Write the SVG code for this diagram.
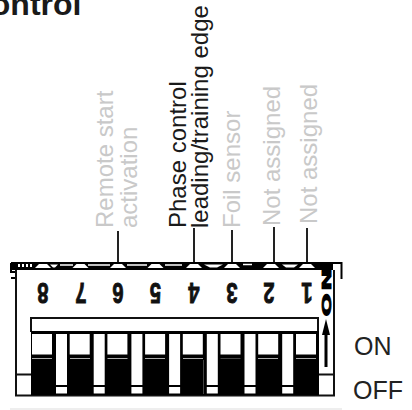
<svg xmlns="http://www.w3.org/2000/svg" width="412" height="410" viewBox="0 0 412 410">
<style>
text{font-family:"Liberation Sans",Arial,sans-serif}
.l{font-size:24px}
.g{fill:#c9c9c9}
.k{fill:#1a1a1a}
.d{font-size:29.500px;font-weight:bold;fill:#111;stroke:#111;stroke-width:1;text-anchor:middle}
.c{stroke:#222;stroke-width:2;fill:none}
.w{fill:#fff}
.t{stroke:#fff;stroke-width:1.5;fill:none}
.m{stroke:#aaa;stroke-width:1;fill:none}
.n{stroke:#444;stroke-width:1;fill:none}
</style>
<defs>
<polygon id="tz" class="w" points="-4,264 4,264 8,268 -8,268"/>
<g id="slot"><rect class="w" x="0" y="334" width="20" height="20.5"/></g>
<g id="col"><rect class="w" x="0" y="334" width="11" height="51"/><rect class="w" x="0" y="387" width="11" height="6.5"/></g>
</defs>
<rect width="412" height="410" fill="#fff"/>
<text x="-27" y="15" font-size="32" font-weight="bold" class="k">control</text>
<g id="labels">
<text class="l g" transform="translate(113 228) rotate(-90)">Remote start</text>
<text class="l g" transform="translate(137 228) rotate(-90)">activation</text>
<text class="l k" transform="translate(186 228) rotate(-90)">Phase control</text>
<text class="l k" transform="translate(208 228) rotate(-90)">leading/training edge</text>
<text class="l g" transform="translate(240 228) rotate(-90)">Foil sensor</text>
<text class="l g" transform="translate(280 226) rotate(-90)">Not assigned</text>
<text class="l g" transform="translate(317 224) rotate(-90)">Not assigned</text>
</g>
<g id="connectors">
<path class="c" d="M118 231V263M194 228V263M232 230V263M274 227V263M307 228V263"/>
</g>
<g id="switch">
<rect x="11" y="262" width="322" height="8" fill="#000"/>
<path d="M333 263H341.500V279" fill="none" stroke="#000" stroke-width="2"/>
<path d="M11 263V272H17M11 278H17" fill="none" stroke="#000" stroke-width="2"/>
<path d="M18 265.500H33" stroke="#fff" stroke-width="3" stroke-dasharray="2 2" fill="none"/>
<use href="#tz" x="43"/><use href="#tz" x="80.500"/><use href="#tz" x="118"/><use href="#tz" x="155.500"/><use href="#tz" x="194"/><use href="#tz" x="232"/><use href="#tz" x="271"/><use href="#tz" x="307"/>
<path class="t" d="M60 265H73M88 265H110M127 265H147M165 265H182M243 264.500H252"/>
<path class="w" d="M50 264.500H58L55 267.500H53ZM204 264.500H223L217 267.500H210ZM282 264.500H298L294 267.500H286Z"/>
<path d="M16 270V395.500H334V270" class="w" stroke="#111" stroke-width="2"/>
<path d="M31 332V318H318V332" fill="none" stroke="#111" stroke-width="2"/>
<rect x="31" y="331" width="288" height="64" fill="#000"/>
<path d="M16 374.500H31M319 374.500H334" stroke="#111" stroke-width="2"/>
<use href="#slot" x="32"/><use href="#slot" x="69.700"/><use href="#slot" x="107.400"/><use href="#slot" x="145.100"/><use href="#slot" x="182.800"/><use href="#slot" x="220.500"/><use href="#slot" x="258.200"/><use href="#slot" x="296"/>
<use href="#col" x="56"/><use href="#col" x="93.700"/><use href="#col" x="131.400"/><use href="#col" x="169.100"/><use href="#col" x="206.800"/><use href="#col" x="244.500"/><use href="#col" x="282.200"/>
<path class="m" d="M32 358.500H52M70 358.500H90M107.500 358.500H127.500M145 358.500H165M183 358.500H203M258 358.500H278M296 358.500H316"/>
<path class="n" d="M220.500 358.500H240.500M203.500 360V394"/>
<text class="d" transform="translate(43 283) rotate(180) scale(.68 1)">8</text>
<text class="d" transform="translate(81 283) rotate(180) scale(.68 1)">7</text>
<text class="d" transform="translate(118 283) rotate(180) scale(.68 1)">6</text>
<text class="d" transform="translate(155.500 283) rotate(180) scale(.68 1)">5</text>
<text class="d" transform="translate(194 283) rotate(180) scale(.68 1)">4</text>
<text class="d" transform="translate(232 283) rotate(180) scale(.68 1)">3</text>
<text class="d" transform="translate(269 283) rotate(180) scale(.68 1)">2</text>
<text class="d" transform="translate(307 283) rotate(180) scale(.68 1)">1</text>
<text font-size="12" font-weight="bold" fill="#000" stroke="#000" stroke-width=".9" letter-spacing="1.500" transform="translate(330.500 316) rotate(-90) scale(2.4 1)">ON</text>
<path d="M326 319L330 335H327.500V367H324.500V335H322Z" fill="#000"/>
</g>
<text x="354" y="355" font-size="25" fill="#222">ON</text>
<text x="353" y="399" font-size="25" fill="#222">OFF</text>
<path d="M10 409H342" stroke="#e8e8e8" stroke-width="1.500"/>
</svg>
